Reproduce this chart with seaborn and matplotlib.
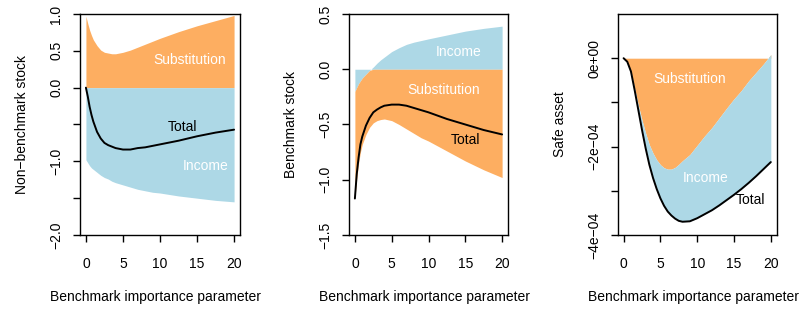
import matplotlib
matplotlib.use("Agg")
import matplotlib.pyplot as plt
import seaborn as sns
import numpy as np
import pandas as pd
from matplotlib.ticker import FixedLocator

# ---------------- data ----------------
# benchmark importance parameter grid for panels 1 and 2
x_grid = [0, 0.25, 0.5, 0.75, 1, 1.5, 2, 2.5, 3, 3.5, 4, 5, 6, 7, 8, 9, 10,
          12.5, 15, 17.5, 20]

# Panel 1: non-benchmark stock
nb_substitution = [0.97, 0.87, 0.78, 0.71, 0.65, 0.57, 0.51, 0.48, 0.47, 0.46,
                   0.46, 0.48, 0.51, 0.55, 0.59, 0.63, 0.67, 0.76, 0.84, 0.91,
                   0.98]
nb_income = [-0.98, -1.02, -1.06, -1.09, -1.11, -1.15, -1.19, -1.22, -1.24,
             -1.27, -1.29, -1.32, -1.35, -1.38, -1.40, -1.42, -1.43, -1.47,
             -1.50, -1.53, -1.55]
nb_total = [0.0, -0.12, -0.26, -0.37, -0.46, -0.60, -0.69, -0.75, -0.78,
            -0.80, -0.82, -0.84, -0.84, -0.82, -0.81, -0.79, -0.77, -0.72,
            -0.66, -0.61, -0.57]

# Panel 2: benchmark stock
b_income = [-0.20, -0.165, -0.13, -0.105, -0.08, -0.045, -0.01, 0.02, 0.055,
            0.085, 0.11, 0.16, 0.195, 0.225, 0.245, 0.26, 0.275, 0.31, 0.345,
            0.37, 0.39]
b_substitution = [-1.17, -0.99, -0.85, -0.75, -0.68, -0.59, -0.525, -0.485,
                  -0.465, -0.455, -0.45, -0.465, -0.50, -0.54, -0.58, -0.62,
                  -0.65, -0.74, -0.83, -0.91, -0.98]
b_total = [-1.17, -0.95, -0.80, -0.68, -0.61, -0.51, -0.44, -0.39, -0.365,
           -0.345, -0.33, -0.32, -0.32, -0.33, -0.35, -0.37, -0.39, -0.45,
           -0.50, -0.55, -0.59]

# Panel 3: safe asset (values in units of 1e-4)
x_safe = [0, 0.5, 1, 1.5, 2, 2.5, 3, 3.5, 4, 4.5, 5, 5.5, 6, 6.5, 7, 7.5, 8,
          9, 10, 11, 12, 13, 14, 15, 16, 17, 18, 19, 20]
safe_substitution = [0.0, -0.08, -0.30, -0.68, -1.06, -1.40, -1.70, -1.96,
                     -2.15, -2.30, -2.41, -2.48, -2.51, -2.51, -2.47, -2.40,
                     -2.32, -2.18, -1.97, -1.76, -1.57, -1.35, -1.13, -0.92,
                     -0.73, -0.51, -0.32, -0.13, 0.08]
safe_total = [0.0, -0.08, -0.30, -0.72, -1.17, -1.62, -2.04, -2.41, -2.71,
              -2.96, -3.17, -3.34, -3.47, -3.56, -3.63, -3.68, -3.70, -3.69,
              -3.62, -3.53, -3.44, -3.33, -3.21, -3.09, -2.96, -2.82, -2.67,
              -2.51, -2.35]
SAFE_UNIT = 1e-4

x_ticks = [0, 5, 10, 15, 20]
p1_yticks = [1.0, 0.5, 0.0, -0.5, -1.0, -1.5, -2.0]
p1_yticklabels = ["1.0", "0.5", "0.0", "", "\u22121.0", "", "\u22122.0"]
p2_yticks = [0.5, 0.0, -0.5, -1.0, -1.5]
p2_yticklabels = ["0.5", "0.0", "\u22120.5", "\u22121.0", "\u22121.5"]
p3_yticks = [0, -1, -2, -3, -4]
p3_yticklabels = ["0e+00", "", "\u22122e\u221204", "", "\u22124e\u221204"]

xlabel = "Benchmark importance parameter"
ylabels = ["Non\u2212benchmark stock", "Benchmark stock", "Safe asset"]

ORANGE = "#FDAE61"
BLUE = "#ADD8E6"

# ---------------- figure ----------------
sns.set_theme(style="white")
plt.rcParams["font.family"] = ["Liberation Sans", "DejaVu Sans"]
plt.rcParams["axes.unicode_minus"] = True

W, H = 807, 309
fig = plt.figure(figsize=(W / 100, H / 100), dpi=100)


def make_ax(left_px, right_px, top_px=14, bottom_px=235):
    return fig.add_axes([left_px / W, (H - bottom_px) / H,
                         (right_px - left_px) / W, (bottom_px - top_px) / H])


axes = [make_ax(80, 240), make_ax(349, 508), make_ax(617.7, 776.7)]

# Panel 1
df1 = pd.DataFrame({"x": x_grid, "sub": nb_substitution, "inc": nb_income,
                    "tot": nb_total})
ax = axes[0]
ax.fill_between(df1["x"], 0, df1["sub"], color=ORANGE, lw=0)
ax.fill_between(df1["x"], 0, df1["inc"], color=BLUE, lw=0)
sns.lineplot(data=df1, x="x", y="tot", ax=ax, color="black", lw=1.4)
ax.set_ylim(-2.0, 1.0)
ax.yaxis.set_major_locator(FixedLocator(p1_yticks))
ax.set_yticklabels(p1_yticklabels)
ax.text(14.0, 0.375, "Substitution", color="white", ha="center", va="center",
        fontsize=10)
ax.text(13.0, -0.53, "Total", color="black", ha="center", va="center",
        fontsize=10)
ax.text(16.1, -1.07, "Income", color="white", ha="center", va="center",
        fontsize=10)

# Panel 2
df2 = pd.DataFrame({"x": x_grid, "sub": b_substitution, "inc": b_income,
                    "tot": b_total})
upper = np.minimum(df2["inc"].to_numpy(), 0.0)
lower = np.minimum(df2["sub"].to_numpy(), df2["tot"].to_numpy())
ax = axes[1]
ax.fill_between(df2["x"], 0, df2["inc"], color=BLUE, lw=0)
ax.fill_between(df2["x"], upper, lower, color=ORANGE, lw=0)
sns.lineplot(data=df2, x="x", y="tot", ax=ax, color="black", lw=1.4)
ax.set_ylim(-1.5, 0.5)
ax.yaxis.set_major_locator(FixedLocator(p2_yticks))
ax.set_yticklabels(p2_yticklabels)
ax.text(14.15, 0.16, "Income", color="white", ha="center", va="center",
        fontsize=10)
ax.text(12.0, -0.19, "Substitution", color="white", ha="center", va="center",
        fontsize=10)
ax.text(15.05, -0.64, "Total", color="black", ha="center", va="center",
        fontsize=10)

# Panel 3
df3 = pd.DataFrame({"x": x_safe,
                    "sub": np.array(safe_substitution) * SAFE_UNIT,
                    "tot": np.array(safe_total) * SAFE_UNIT})
ax = axes[2]
ax.fill_between(df3["x"], 0, df3["sub"], color=ORANGE, lw=0)
ax.fill_between(df3["x"], df3["sub"], df3["tot"], color=BLUE, lw=0)
sns.lineplot(data=df3, x="x", y="tot", ax=ax, color="black", lw=1.4)
ax.set_ylim(-4e-4, 1e-4)
ax.yaxis.set_major_locator(FixedLocator([v * SAFE_UNIT for v in p3_yticks]))
ax.set_yticklabels(p3_yticklabels)
ax.text(9.0, -0.47e-4, "Substitution", color="white", ha="center",
        va="center", fontsize=10)
ax.text(11.1, -2.71e-4, "Income", color="white", ha="center", va="center",
        fontsize=10)
ax.text(17.3, -3.2e-4, "Total", color="black", ha="center", va="center",
        fontsize=10)

for ax, yl in zip(axes, ylabels):
    ax.set_xlim(-0.8, 20.8)
    ax.xaxis.set_major_locator(FixedLocator(x_ticks))
    ax.set_xticklabels([str(t) for t in x_ticks])
    for s in ax.spines.values():
        s.set_visible(True)
        s.set_color("black")
        s.set_linewidth(1.0)
    ax.tick_params(axis="both", direction="out", length=5, width=1,
                   color="black", labelcolor="black", labelsize=10,
                   bottom=True, left=True)
    ax.tick_params(axis="x", pad=11)
    ax.tick_params(axis="y", pad=7)
    for lab in ax.get_yticklabels():
        lab.set_rotation(90)
        lab.set_va("center")
    ax.set_xlabel(xlabel, fontsize=10, color="black")
    ax.set_ylabel(yl, fontsize=10, color="black")
    ax.xaxis.label.set_va("center")
    ax.yaxis.label.set_va("center")
    ax.xaxis.set_label_coords(0.475, -0.28)
    ax.yaxis.set_label_coords(-0.365, 0.5)
    ax.set_facecolor("white")
    ax.grid(False)

fig.savefig("out.png", dpi=100, facecolor="white")
